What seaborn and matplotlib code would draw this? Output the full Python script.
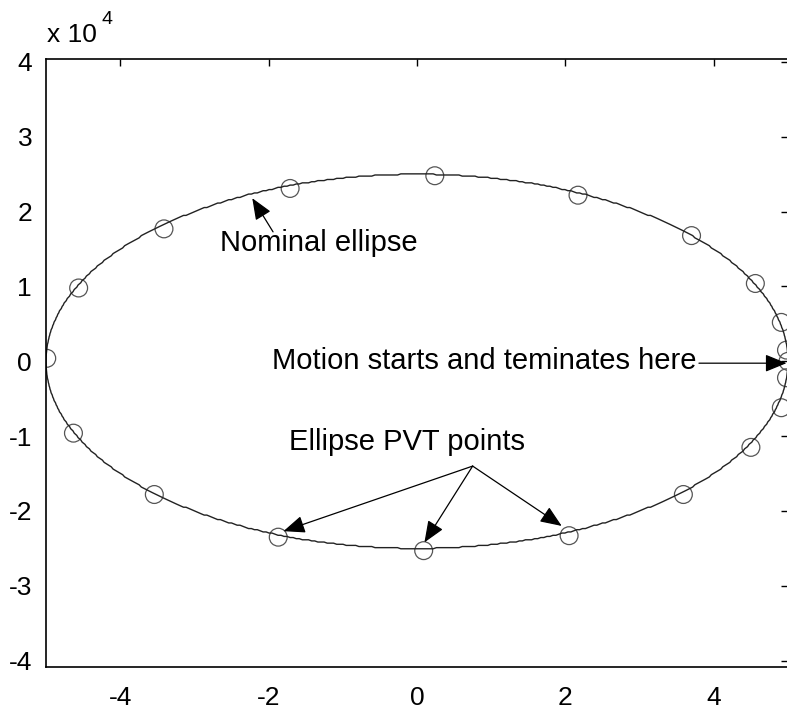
import numpy as np
import pandas as pd
import matplotlib
matplotlib.use("Agg")
import matplotlib.pyplot as plt
import seaborn as sns

sns.set_theme(style="white")
plt.rcParams['font.family'] = ['Liberation Sans', 'DejaVu Sans']
plt.rcParams['text.color'] = 'black'

# Nominal ellipse semi-axes
ellipse_a = 5.0
ellipse_b = 25000.0

# PVT points
pvt_x = [0.24, 2.17, 3.70, 4.56, 4.91, 4.98, 5.0, 4.98, 4.91, 4.50, 3.59, 2.05,
         0.09, -1.87, -3.54, -4.63, -4.99, -4.56, -3.41, -1.71]
pvt_y = [24800, 22200, 16800, 10400, 5200, 1500, 0, -2200, -6200, -11500, -17800,
         -23300, -25300, -23500, -17800, -9600, 400, 9800, 17700, 23100]

x_ticks = [-4, -2, 0, 2, 4]
y_ticks = [-40000, -30000, -20000, -10000, 0, 10000, 20000, 30000, 40000]
y_tick_labels = ['-4', '-3', '-2', '-1', '0', '1', '2', '3', '4']

t = np.linspace(0, 2 * np.pi, 721)
ell = pd.DataFrame({'x': ellipse_a * np.cos(t),
                    'y': np.round(ellipse_b * np.sin(t) / 150) * 150})
pts = pd.DataFrame({'x': pvt_x, 'y': pvt_y})

fig = plt.figure(figsize=(7.87, 7.23), dpi=100)
ax = fig.add_axes([46 / 787, (723 - 667) / 723, 742 / 787, 608 / 723])

sns.lineplot(data=ell, x='x', y='y', sort=False, ax=ax, color='#222222',
             linewidth=1.0, estimator=None)
sns.scatterplot(data=pts, x='x', y='y', ax=ax, marker='o', s=165,
                facecolors='none', edgecolor='#555555', linewidth=0.9)

ax.set_xlim(-5, 5)
ax.set_ylim(-40850, 40400)
ax.set_xticks(x_ticks)
ax.set_xticklabels([str(v) for v in x_ticks])
ax.set_yticks(y_ticks)
ax.set_yticklabels(y_tick_labels)
ax.set_xlabel('')
ax.set_ylabel('')
ax.tick_params(direction='in', top=True, right=True, length=5, width=1,
               labelsize=19, colors='black')
ax.tick_params(axis='x', pad=14)
ax.tick_params(axis='y', pad=10)
for s in ax.spines.values():
    s.set_color('black')
    s.set_linewidth(1.2)

fig.text(47 / 787, 1 - 42 / 723, 'x 10', fontsize=19, ha='left', va='baseline')
fig.text(102 / 787, 1 - 24 / 723, '4', fontsize=14, ha='left', va='baseline')

arrow = dict(arrowstyle='-|>,head_length=1.1,head_width=0.45', color='black',
             lw=0.9, shrinkA=0, shrinkB=0)
ann_fs = 21

ax.text(-2.65, 15800, 'Nominal ellipse', fontsize=ann_fs, ha='left', va='center')
ax.annotate('', xy=(-2.22, 21800), xytext=(-1.94, 17300), arrowprops=arrow)

ax.text(3.77, 0, 'Motion starts and teminates here', fontsize=ann_fs,
        ha='right', va='center')
ax.annotate('', xy=(4.98, -250), xytext=(3.8, -250), arrowprops=arrow)

ax.text(-0.13, -10800, 'Ellipse PVT points', fontsize=ann_fs, ha='center', va='center')
origin = (0.75, -14000)
for target in [(-1.80, -22700), (0.10, -24200), (1.95, -22000)]:
    ax.annotate('', xy=target, xytext=origin, arrowprops=arrow)

fig.savefig('out.png', dpi=100)
